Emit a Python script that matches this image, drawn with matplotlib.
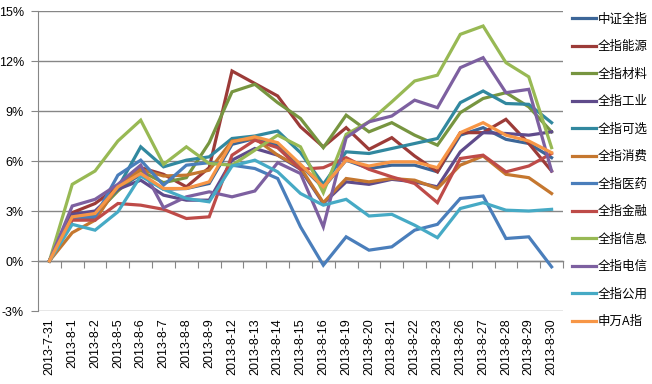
import matplotlib
matplotlib.use("Agg")
import matplotlib.pyplot as plt
import numpy as np
from matplotlib.ticker import FuncFormatter

dates = ['2013-7-31', '2013-8-1', '2013-8-2', '2013-8-5', '2013-8-6', '2013-8-7',
         '2013-8-8', '2013-8-9', '2013-8-12', '2013-8-13', '2013-8-14', '2013-8-15',
         '2013-8-16', '2013-8-19', '2013-8-20', '2013-8-21', '2013-8-22', '2013-8-23',
         '2013-8-26', '2013-8-27', '2013-8-28', '2013-8-29', '2013-8-30']

names = ['中证全指', '全指能源', '全指材料', '全指工业', '全指可选', '全指消费',
         '全指医药', '全指金融', '全指信息', '全指电信', '全指公用', '申万A指']

csi_all = [0, 2.6, 2.75, 4.3, 5.2, 4.3, 4.35, 4.65, 7.0, 7.35, 6.95, 5.75, 4.4, 6.05, 5.55, 5.75, 5.75, 5.35, 7.55, 8.0, 7.3, 7.05, 6.2]
energy = [0, 2.9, 3.45, 4.45, 5.6, 5.2, 4.45, 5.6, 11.4, 10.65, 9.9, 8.05, 6.85, 8.0, 6.7, 7.4, 6.3, 5.35, 7.7, 7.7, 8.5, 7.05, 5.4]
materials = [0, 2.6, 2.8, 4.2, 5.4, 4.7, 5.0, 7.1, 10.15, 10.6, 9.5, 8.55, 6.8, 8.75, 7.75, 8.3, 7.55, 6.95, 8.9, 9.75, 10.1, 9.25, 7.75]
industrial = [0, 2.8, 3.0, 4.3, 4.85, 3.95, 3.65, 3.65, 6.05, 6.75, 6.35, 5.5, 3.45, 4.75, 4.6, 4.9, 4.75, 4.45, 6.55, 7.7, 7.65, 7.55, 7.75]
discretionary = [0, 2.5, 2.6, 4.4, 6.85, 5.65, 6.05, 6.25, 7.35, 7.5, 7.8, 6.5, 4.6, 6.55, 6.45, 6.75, 7.05, 7.35, 9.5, 10.2, 9.45, 9.4, 8.3]
consumer = [0, 1.7, 2.45, 4.5, 5.5, 5.1, 5.15, 5.45, 7.2, 7.35, 6.35, 5.6, 3.5, 4.95, 4.75, 4.95, 4.85, 4.35, 5.75, 6.3, 5.2, 5.0, 4.05]
health = [0, 2.6, 2.65, 5.15, 6.05, 4.55, 5.75, 5.9, 5.75, 5.55, 4.95, 2.05, -0.25, 1.45, 0.65, 0.85, 1.85, 2.2, 3.75, 3.9, 1.35, 1.45, -0.35]
finance = [0, 2.45, 2.45, 3.45, 3.35, 3.1, 2.55, 2.65, 6.35, 7.25, 6.8, 5.5, 5.6, 6.2, 5.5, 5.05, 4.65, 3.5, 6.15, 6.35, 5.35, 5.7, 6.45]
info = [0, 4.6, 5.4, 7.2, 8.45, 5.8, 6.85, 5.85, 5.75, 6.65, 7.55, 6.85, 4.1, 7.6, 8.35, 9.55, 10.8, 11.15, 13.6, 14.1, 11.9, 11.05, 6.8]
telecom = [0, 3.3, 3.7, 4.6, 5.75, 3.2, 3.85, 4.15, 3.85, 4.2, 5.9, 5.25, 2.05, 7.4, 8.35, 8.7, 9.65, 9.2, 11.6, 12.2, 10.1, 10.3, 5.4]
utilities = [0, 2.2, 1.85, 2.95, 5.1, 4.3, 3.75, 3.55, 5.7, 6.05, 5.35, 4.05, 3.35, 3.7, 2.7, 2.8, 2.15, 1.4, 3.15, 3.5, 3.05, 3.0, 3.1]
sw_a = [0, 2.65, 2.85, 4.45, 5.25, 4.35, 4.35, 4.75, 7.15, 7.45, 7.1, 5.8, 4.45, 6.05, 5.7, 5.95, 5.95, 5.6, 7.7, 8.3, 7.55, 7.2, 6.5]

series = [csi_all, energy, materials, industrial, discretionary, consumer,
          health, finance, info, telecom, utilities, sw_a]
colors = ['#3C6698', '#9C3B38', '#779540', '#5F4B8B', '#31889F', '#C5772F',
          '#4A7EBB', '#BE4B48', '#98B954', '#7D60A0', '#46AAC5', '#F79646']

yticks = [-3, 0, 3, 6, 9, 12, 15]

plt.rcParams['font.family'] = ['Noto Sans CJK SC', 'DejaVu Sans']

fig = plt.figure(figsize=(6.52, 3.84), dpi=100)
ax = fig.add_axes([38 / 652, 73 / 384, (563 - 38) / 652, 300 / 384])

x = np.arange(len(dates))
for vals, name, c in zip(series, names, colors):
    ax.plot(x, vals, color=c, lw=2.3, label=name, solid_joinstyle='miter')

grid_c = '#868686'
ax.set_xlim(-0.5, len(dates) - 0.5)
ax.set_ylim(-3, 15)
ax.set_yticks(yticks)
ax.yaxis.set_major_formatter(FuncFormatter(lambda v, p: f'{int(v)}%'))
ax.yaxis.grid(True, color=grid_c, lw=1)
ax.set_axisbelow(True)
for s in ['top', 'right', 'bottom']:
    ax.spines[s].set_visible(False)
ax.spines['left'].set_color(grid_c)
ax.tick_params(axis='y', length=5, color=grid_c, pad=5, labelsize=9, labelfontfamily='Liberation Sans')

ax.set_xticks(x)
ax.set_xticklabels(dates, rotation=90, fontsize=9, family='Liberation Sans')
ax.tick_params(axis='x', length=0, pad=5)

# category axis crossing at 0%
sec = ax.secondary_xaxis((0 - (-3)) / 18)
sec.set_xticks(np.arange(len(dates)) + 0.5)
sec.tick_params(axis='x', length=5, color=grid_c, labelbottom=False)
sec.spines['bottom'].set_color(grid_c)
sec.spines['bottom'].set_linewidth(1)

leg = ax.legend(loc='upper left', bbox_to_anchor=(572 / 652, 1 - 12.5 / 384),
                bbox_transform=fig.transFigure, frameon=False, fontsize=9,
                handlelength=1.9, handletextpad=0.15, labelspacing=1.16,
                borderpad=0, borderaxespad=0)
for t in leg.get_texts():
    t.set_color('black')

fig.savefig('out.png', dpi=100)
